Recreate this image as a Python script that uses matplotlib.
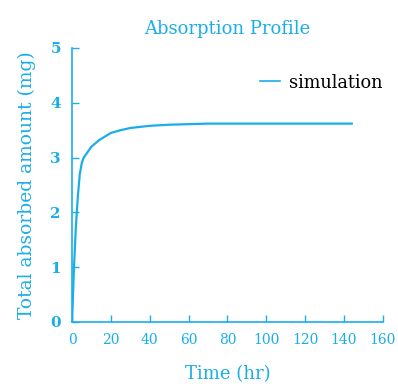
import matplotlib
matplotlib.use("Agg")
import matplotlib.pyplot as plt

# absorbed amount over time
time_hr = [0, 0.5, 1, 2, 3, 4, 5, 6, 8, 10, 14, 20, 25, 30, 40, 50, 70, 100, 144]
absorbed_mg = [0, 0.5, 1.0, 1.75, 2.3, 2.7, 2.9, 3.0, 3.1, 3.2, 3.32, 3.45, 3.5,
               3.54, 3.58, 3.6, 3.62, 3.62, 3.62]
x_ticks = [0, 20, 40, 60, 80, 100, 120, 140, 160]
y_ticks = [0, 1, 2, 3, 4, 5]

CYAN = "#1aaee8"
plt.rcParams["font.family"] = ["DejaVu Serif"]

fig = plt.figure(figsize=(3.98, 3.87), dpi=100)
ax = fig.add_axes([0.181, 0.168, 0.781, 0.708])

ax.plot(time_hr, absorbed_mg, color=CYAN, linewidth=1.6, label="simulation")

ax.set_xlim(0, 160)
ax.set_ylim(0, 5)
ax.set_xticks(x_ticks)
ax.set_yticks(y_ticks)
ax.spines["top"].set_visible(False)
ax.spines["right"].set_visible(False)
for s in ("left", "bottom"):
    ax.spines[s].set_color(CYAN)
    ax.spines[s].set_linewidth(1.2)
ax.tick_params(direction="in", colors=CYAN, length=5, width=1, labelsize=10, pad=8)
ax.tick_params(axis="y", labelsize=11)
for lbl in ax.get_yticklabels():
    lbl.set_fontweight("bold")

ax.set_title("Absorption Profile", color=CYAN, fontsize=13, pad=10)
ax.set_xlabel("Time (hr)", color=CYAN, fontsize=13, labelpad=13)
ax.set_ylabel("Total absorbed amount (mg)", color=CYAN, fontsize=13.5, labelpad=10)

# legend: short line + black label, no frame
leg = ax.legend(loc="upper right", frameon=False, fontsize=12.8, handlelength=1.1,
                handletextpad=0.5, bbox_to_anchor=(1.05, 0.965))
leg.get_lines()[0].set_linewidth(1.2)

fig.savefig("out.png", dpi=100)
